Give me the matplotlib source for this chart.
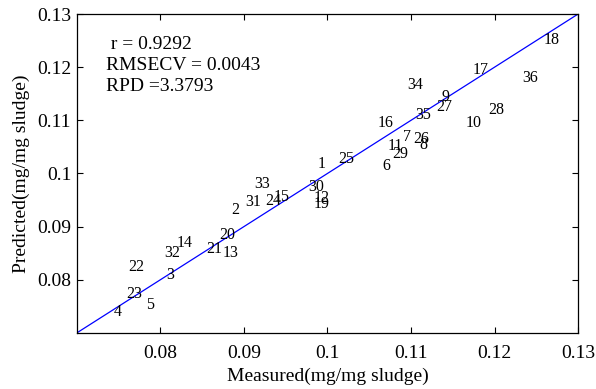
import matplotlib
matplotlib.use("Agg")
import matplotlib.pyplot as plt

plt.rcParams['font.family'] = ['Liberation Serif', 'DejaVu Serif']

sample_ids = [1, 2, 3, 4, 5, 6, 7, 8, 9, 10, 11, 12, 13, 14, 15, 16, 17, 18,
              19, 20, 21, 22, 23, 24, 25, 26, 27, 28, 29, 30, 31, 32, 33, 34, 35, 36]
measured = [0.0988, 0.0885, 0.0807, 0.0744, 0.0783, 0.1066, 0.1090, 0.1110, 0.1137,
            0.1165, 0.1072, 0.0983, 0.0875, 0.0819, 0.0936, 0.1060, 0.1174, 0.1259,
            0.0983, 0.0871, 0.0855, 0.0762, 0.0759, 0.0926, 0.1013, 0.1103, 0.1130,
            0.1192, 0.1077, 0.0977, 0.0902, 0.0805, 0.0912, 0.1095, 0.1105, 0.1233]
predicted = [0.1018, 0.0932, 0.0809, 0.0740, 0.0753, 0.1015, 0.1068, 0.1054, 0.1143,
             0.1095, 0.1051, 0.0953, 0.0851, 0.0869, 0.0956, 0.1095, 0.1195, 0.1251,
             0.0943, 0.0884, 0.0858, 0.0824, 0.0774, 0.0948, 0.1028, 0.1065, 0.1126,
             0.1119, 0.1036, 0.0974, 0.0946, 0.0851, 0.0981, 0.1167, 0.1110, 0.1179]
axis_range = [0.07, 0.13]
tick_values = [0.08, 0.09, 0.10, 0.11, 0.12, 0.13]
tick_labels = ['0.08', '0.09', '0.1', '0.11', '0.12', '0.13']
stats_lines = [' r = 0.9292', 'RMSECV = 0.0043', 'RPD =3.3793']

fig = plt.figure(figsize=(5.96, 3.89), dpi=100)
ax = fig.add_axes([0.1287, 0.144, 0.8413, 0.820])

ax.plot(axis_range, axis_range, color='#0000ff', linewidth=0.9)
for sid, mx, py in zip(sample_ids, measured, predicted):
    ax.text(mx, py, str(sid), ha='left', va='center', fontsize=11.5, color='black')

ax.set_xlim(axis_range)
ax.set_ylim(axis_range)
ax.set_xticks(tick_values)
ax.set_xticklabels(tick_labels)
ax.set_yticks(tick_values)
ax.set_yticklabels(tick_labels)
ax.tick_params(direction='in', top=True, right=True, labelsize=14, length=4, width=0.8)
ax.tick_params(axis='x', pad=9)
ax.tick_params(axis='y', pad=4)
for s in ax.spines.values():
    s.set_linewidth(0.9)

ax.text(0.0735, 0.1258, '\n'.join(stats_lines), ha='left', va='top', fontsize=14,
        linespacing=1.28)

ax.set_xlabel('Measured(mg/mg sludge)', fontsize=14, labelpad=4)
ax.set_ylabel('Predicted(mg/mg sludge)', fontsize=14, labelpad=5)

fig.savefig('out.png', dpi=100)
